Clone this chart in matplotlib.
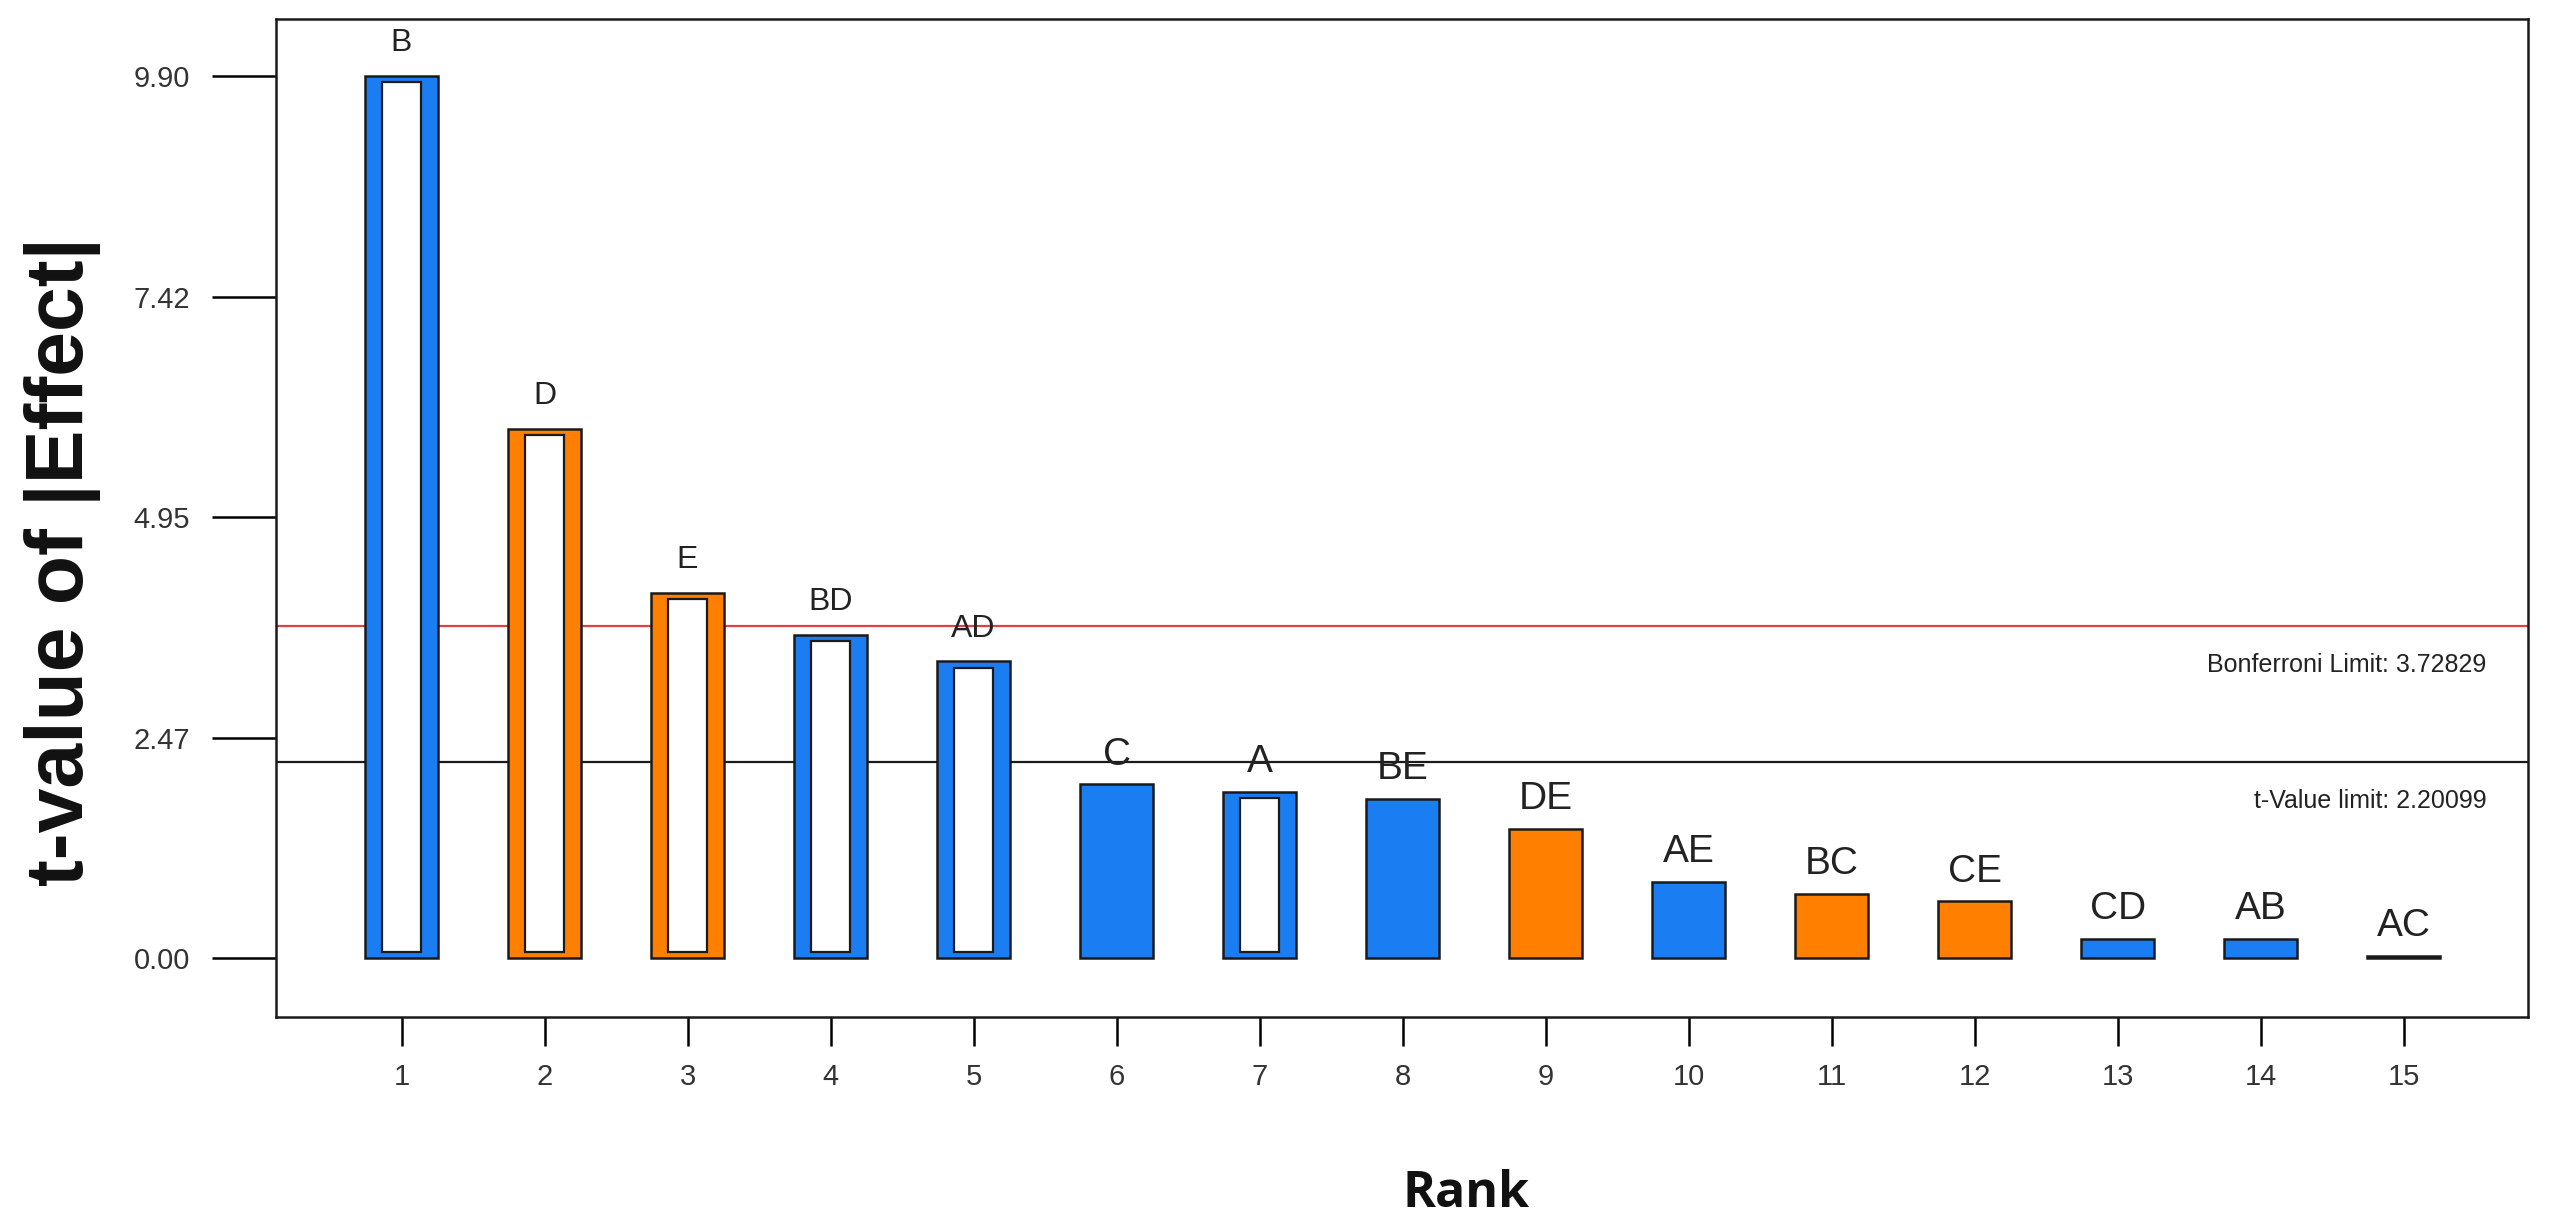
import matplotlib
matplotlib.use("Agg")
import matplotlib.pyplot as plt
import numpy as np

# Half-normal / Pareto style effects chart
ranks = list(range(1, 16))
terms = ["B", "D", "E", "BD", "AD", "C", "A", "BE", "DE", "AE",
         "BC", "CE", "CD", "AB", "AC"]
t_values = [9.90, 5.94, 4.10, 3.63, 3.33, 1.95, 1.87, 1.79, 1.45, 0.86,
            0.72, 0.64, 0.22, 0.22, 0.03]
# 'pos' = positive effect (orange), 'neg' = negative effect (blue)
signs = ["neg", "pos", "pos", "neg", "neg", "neg", "neg", "neg", "pos", "neg",
         "pos", "pos", "neg", "neg", "neg"]
# terms in the model are drawn hollow
in_model = [True, True, True, True, True, False, True, False, False, False,
            False, False, False, False, False]

y_ticks = [0.00, 2.47, 4.95, 7.42, 9.90]
bonferroni_limit = 3.72829
t_limit = 2.20099

BLUE = "#1a7df2"
ORANGE = "#ff8000"
EDGE = "#1a1a1a"

plt.rcParams["font.family"] = ["Liberation Sans", "DejaVu Sans"]

fig = plt.figure(figsize=(25.6, 12.17), dpi=100)
ax = fig.add_axes([0.1078, 0.1643, 0.8797, 0.8201])

colors = [ORANGE if s == "pos" else BLUE for s in signs]

ax.axhline(bonferroni_limit, color="#e0403f", lw=1.6, zorder=1)
ax.axhline(t_limit, color="#1a1a1a", lw=1.6, zorder=1)

ax.bar(ranks, t_values, width=0.51, color=colors, edgecolor=EDGE,
       linewidth=1.8, zorder=2)

# white core for the hollow bars
inset = 0.07
for r, v, hollow in zip(ranks, t_values, in_model):
    if hollow:
        ax.bar(r, v - 2 * inset, bottom=inset, width=0.27, color="white",
               edgecolor=EDGE, linewidth=1.6, zorder=3)

for r, v, name in zip(ranks, t_values, terms):
    size = 23 if r <= 5 else 28
    off = 0.28 if r <= 5 else 0.22
    ax.text(r, v + off, name, ha="center", va="baseline", fontsize=size,
            color="#222222", zorder=4)

ax.text(15.58, bonferroni_limit - 0.52, "Bonferroni Limit: 3.72829",
        ha="right", va="baseline", fontsize=18, color="#222222")
ax.text(15.58, t_limit - 0.52, "t-Value limit: 2.20099",
        ha="right", va="baseline", fontsize=18, color="#222222")

ax.set_xlim(0.122, 15.87)
ax.set_ylim(-0.66, 10.54)
ax.set_xticks(ranks)
ax.set_xticklabels([str(r) for r in ranks])
ax.set_yticks(y_ticks)
ax.set_yticklabels([f"{t:.2f}" for t in y_ticks])

ax.tick_params(axis="y", length=46, width=1.8, pad=16, labelsize=21,
               labelcolor="#333333")
ax.tick_params(axis="x", length=21, width=1.8, pad=12, labelsize=21,
               labelcolor="#333333")
for sp in ax.spines.values():
    sp.set_linewidth(1.8)
    sp.set_color("#1a1a1a")

fig.text(0.0243, 0.539, "t-value of |Effect|", rotation=90, ha="center",
         va="center", fontsize=58, fontweight="bold", color="#111111")
fig.text(0.5727, 0.0085, "Rank", ha="center", va="baseline", fontsize=36,
         fontweight="bold", color="#111111", family=["Open Sans", "DejaVu Sans"])

fig.savefig("out.png", dpi=100)
